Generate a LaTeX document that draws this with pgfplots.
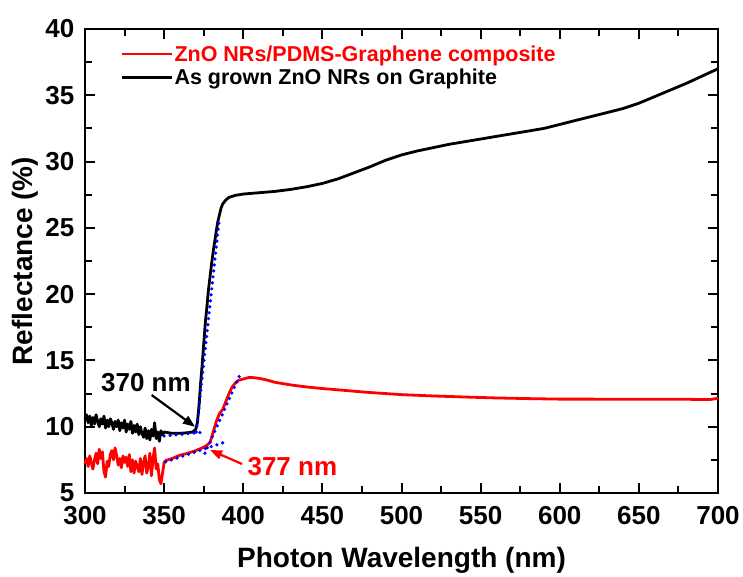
\documentclass[border=0pt]{standalone}
\usepackage{fontspec}
\setmainfont{Liberation Sans}
\usepackage{pgfplots}
\pgfplotsset{compat=1.18}
\usetikzlibrary{arrows.meta}

\newcommand{\fs}[1]{\bfseries\fontsize{#1}{#1}\selectfont}

\begin{document}
\begin{tikzpicture}
\begin{axis}[
    scale only axis,
    width=633bp, height=464bp,
    xmin=300, xmax=700,
    ymin=5, ymax=40,
    xtick={300,350,...,700},
    ytick={5,10,...,40},
    minor x tick num=1,
    minor y tick num=1,
    tick align=inside,
    major tick length=10bp,
    minor tick length=7bp,
    every tick/.style={line width=2bp, black},
    axis line style={line width=2.5bp},
    /pgf/number format/assume math mode=true,
    tick label style={font=\fs{26bp}, inner sep=1bp},
    xticklabel style={yshift=-12.5bp},
    yticklabel style={xshift=-9.5bp},
    xlabel={Photon Wavelength (nm)},
    ylabel={Reflectance (\%)},
    xlabel style={font=\fs{28bp}, at={(axis description cs:0.5,-0.1444)}, anchor=center},
    ylabel style={font=\fs{28bp}, at={(axis description cs:-0.0948,0.5)}, anchor=center},
    legend style={draw=none, fill=none, inner sep=0pt,
        at={(axis description cs:0.0553,0.968)}, anchor=north west,
        font=\fs{21.5bp}, row sep=3bp,
        nodes={inner sep=1.5bp}},
    legend cell align=left,
    legend image code/.code={\draw[#1, line width=2.8bp] (0bp,0bp) -- (50bp,0bp);},
    fit/.style={blue, line width=3.6bp, line cap=round, dash pattern=on 0bp off 6bp, forget plot},
    clip=false,
]
% red: ZnO NRs/PDMS-Graphene composite
\addplot[red, line width=2.8bp, line join=round] coordinates {
(300,7.2) (301,7.6) (302,7.0) (303,7.8) (304,7.3) (305,6.8) (306,7.5) (307,8.0)
(308,7.2) (309,8.3) (310,7.6) (311,8.1) (312,6.6) (313,6.2) (314,7.4) (315,7.0)
(316,7.9) (317,8.2) (318,7.5) (319,8.4) (320,7.8) (321,7.1) (322,7.6) (323,6.9)
(324,7.8) (325,7.3) (326,7.7) (327,7.0) (328,7.9) (329,6.6) (330,7.5) (331,6.5)
(332,7.4) (333,7.0) (334,6.6) (335,7.6) (336,6.4) (337,7.3) (338,7.8) (339,6.5)
(340,7.0) (341,8.0) (342,6.3) (343,7.6) (344,8.4) (345,6.8) (346,7.2) (347,6.0)
(348,5.7) (349,6.5) (350,7.3) (351,7.45) (355,7.6) (360,7.85) (365,8.0) (370,8.2)
(375,8.45) (377,8.6) (379,8.8) (381,9.6) (383,10.4) (385,11.0) (387,11.3) (389,11.9)
(391,12.5) (393,13.0) (395,13.3) (397,13.5) (400,13.6) (403,13.7) (405,13.72)
(410,13.65) (415,13.52) (420,13.35) (430,13.15) (440,13.0) (450,12.88) (460,12.78)
(470,12.68) (480,12.58) (490,12.5) (500,12.42) (520,12.32) (540,12.24) (560,12.17)
(580,12.12) (600,12.08) (620,12.08) (640,12.07) (660,12.07) (680,12.07) (690,12.05)
(695,12.05) (700,12.15)
};
\addlegendentry{\textcolor{red}{ZnO NRs/PDMS-Graphene composite}}
% black: as grown ZnO NRs on graphite
\addplot[black, line width=2.8bp, line join=round] coordinates {
(300,10.6) (301,10.9) (302,10.3) (303,10.8) (304,10.1) (305,10.7) (306,10.2) (307,10.9)
(308,10.4) (309,10.0) (310,10.6) (311,10.2) (312,10.8) (313,9.9) (314,10.5) (315,10.0)
(316,10.6) (317,10.3) (318,9.8) (319,10.4) (320,10.0) (321,10.5) (322,9.7) (323,10.3)
(324,9.9) (325,10.5) (326,9.6) (327,10.2) (328,9.8) (329,10.4) (330,9.5) (331,10.1)
(332,9.6) (333,10.2) (334,9.4) (335,10.0) (336,9.5) (337,9.2) (338,9.9) (339,9.1)
(340,9.7) (341,9.0) (342,9.8) (343,9.3) (344,10.3) (345,9.1) (346,9.6) (347,8.9)
(348,9.7) (349,9.4) (350,9.6) (355,9.5) (360,9.5) (365,9.55) (368,9.6) (370,9.8)
(371,10.3) (372,11.5) (373,13.2) (374,14.6) (375,16.2) (376,17.8) (377,19.0) (378,20.3)
(379,21.3) (380,22.3) (381,23.2) (382,24.0) (383,24.8) (384,25.5) (385,26.0) (386,26.5)
(387,26.8) (389,27.1) (391,27.3) (395,27.45) (400,27.55) (410,27.65) (420,27.75)
(430,27.9) (440,28.1) (450,28.35) (460,28.7) (470,29.15) (480,29.6) (490,30.1) (500,30.5)
(510,30.8) (520,31.05) (530,31.3) (540,31.5) (550,31.7) (560,31.9) (570,32.1) (580,32.3)
(590,32.5) (600,32.8) (620,33.4) (640,34.0) (650,34.4) (660,34.9) (680,35.9) (700,37.0)
};
\addlegendentry{As grown ZnO NRs on Graphite}
% blue dotted fits
\addplot[fit] coordinates {(350,9.3) (376,9.6)};
\addplot[fit] coordinates {(370.3,9.6) (384.6,25.4)};
\addplot[fit] coordinates {(351,7.35) (387.5,8.8)};
\addplot[fit] coordinates {(375.8,8.0) (397.5,13.8)};
% annotations
\draw[-{Triangle[length=12bp,width=9bp]}, line width=2.2bp, black]
    (axis cs:342.1,12.39) -- (axis cs:369.5,10.0);
\node[font=\fs{26bp}, black] at (axis cs:338.5,13.3) {370 nm};
\draw[-{Triangle[length=12bp,width=9bp]}, line width=2.2bp, red]
    (axis cs:399.2,7.19) -- (axis cs:379,8.24);
\node[font=\fs{26bp}, red, anchor=west] at (axis cs:400.5,6.96) {377 nm};
\coordinate (bl) at (axis description cs:-0.13428,-0.18103);
\coordinate (tr) at (axis description cs:1.03949,1.0625);
\end{axis}
\pgfresetboundingbox
\useasboundingbox (bl) rectangle (tr);
\end{tikzpicture}
\end{document}
